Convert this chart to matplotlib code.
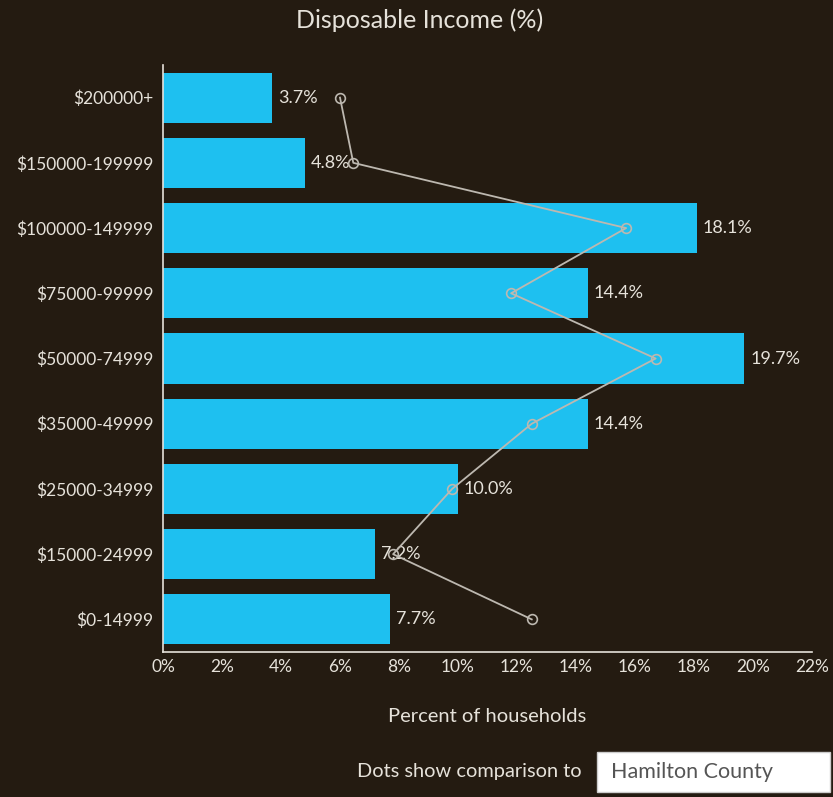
import matplotlib.pyplot as plt
from matplotlib.patches import Rectangle

plt.rcParams['font.family'] = ['Lato', 'DejaVu Sans']

categories = ["$0-14999", "$15000-24999", "$25000-34999", "$35000-49999",
              "$50000-74999", "$75000-99999", "$100000-149999",
              "$150000-199999", "$200000+"]
values = [7.7, 7.2, 10.0, 14.4, 19.7, 14.4, 18.1, 4.8, 3.7]
county = [12.5, 7.8, 9.8, 12.5, 16.7, 11.8, 15.7, 6.45, 6.0]
xticks = [0, 2, 4, 6, 8, 10, 12, 14, 16, 18, 20, 22]

bg = "#241b11"
fg = "#e6e2da"
bar_color = "#1ec0f0"

fig = plt.figure(figsize=(8.33, 7.97), dpi=100, facecolor=bg)
ax = fig.add_axes([163/833, 145/797, (812-163)/833, (732-145)/797])
ax.set_facecolor(bg)

ypos = list(range(len(categories)))
ax.barh(ypos, values, height=0.77, color=bar_color, zorder=2)
for y, v in zip(ypos, values):
    ax.text(v + 0.2, y, "%.1f%%" % v, color=fg, fontsize=13,
            va="center", ha="left", zorder=3)

ax.plot(county, ypos, color="#bdb8b0", lw=1.3, marker="o", markersize=7,
        markerfacecolor="none", markeredgecolor="#bdb8b0", markeredgewidth=1.2,
        zorder=4)

ax.set_xlim(0, 22)
ax.set_ylim(-0.5, 8.5)
ax.set_xticks(xticks)
ax.set_xticklabels(["%d%%" % t for t in xticks])
ax.set_yticks(ypos)
ax.set_yticklabels(categories)
ax.tick_params(colors=fg, labelsize=12.5, length=0, pad=7)
ax.tick_params(axis="x", pad=5)

for s in ["top", "right"]:
    ax.spines[s].set_visible(False)
for s in ["left", "bottom"]:
    ax.spines[s].set_color(fg)
    ax.spines[s].set_linewidth(1.2)

ax.set_xlabel("Percent of households", color=fg, fontsize=14.5, labelpad=24)
fig.text(420/833, 1 - 20/797, "Disposable Income (%)", color=fg, fontsize=18,
         ha="center", va="center")

fig.text(582/833, 1 - 772/797, "Dots show comparison to", color=fg,
         fontsize=14.4, ha="right", va="center")
fig.patches.append(Rectangle((597/833, 1 - 792/797), 233/833, 40/797,
                             transform=fig.transFigure, facecolor="white",
                             edgecolor="#cccccc", lw=1))
fig.text(611/833, 1 - 772/797, "Hamilton County", color="#555555",
         fontsize=15.5, ha="left", va="center")

fig.savefig("out.png", facecolor=bg)
